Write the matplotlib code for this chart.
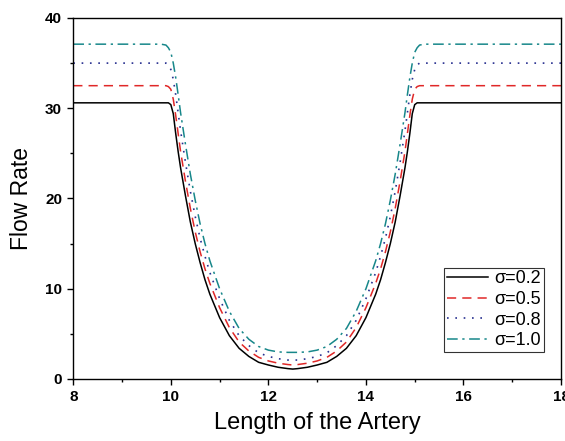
import matplotlib
matplotlib.use("Agg")
import matplotlib.pyplot as plt
from matplotlib.ticker import MultipleLocator

plt.rcParams['font.family'] = ['Liberation Sans', 'DejaVu Sans']

# Axial position along the artery (stenosis between 10 and 15)
z = [8.0, 9.8, 9.9, 9.95, 10.0, 10.05, 10.1, 10.15, 10.2, 10.3, 10.4, 10.5,
     10.6, 10.7, 10.8, 11.0, 11.2, 11.4, 11.6, 11.8, 12.0, 12.2, 12.4, 12.5,
     12.6, 12.8, 13.0, 13.2, 13.4, 13.6, 13.8, 14.0, 14.2, 14.3, 14.4, 14.5,
     14.6, 14.7, 14.8, 14.85, 14.9, 14.95, 15.0, 15.05, 15.1, 15.2, 18.0]

q_s02 = [30.6, 30.6, 30.6, 30.6, 30.4, 29.4, 27.2, 25.2, 23.4, 20.3, 17.4, 15.0,
         12.9, 11.0, 9.4, 6.8, 4.8, 3.4, 2.5, 1.85, 1.55, 1.3, 1.15, 1.1,
         1.15, 1.3, 1.55, 1.85, 2.5, 3.4, 4.8, 6.8, 9.4, 11.0, 12.9, 15.0,
         17.4, 20.3, 23.4, 25.2, 27.2, 29.4, 30.4, 30.6, 30.6, 30.6, 30.6]

q_s05 = [32.5, 32.5, 32.5, 32.4, 32.1, 31.0, 29.2, 27.2, 25.2, 21.9, 18.9, 16.3,
         14.1, 12.2, 10.6, 7.9, 5.7, 4.1, 3.1, 2.4, 2.0, 1.75, 1.6, 1.55,
         1.6, 1.75, 2.0, 2.4, 3.1, 4.1, 5.7, 7.9, 10.6, 12.2, 14.1, 16.3,
         18.9, 21.9, 25.2, 27.2, 29.2, 31.0, 32.1, 32.4, 32.5, 32.5, 32.5]

q_s08 = [35.0, 35.0, 35.0, 34.8, 34.3, 33.2, 31.5, 29.5, 27.5, 24.0, 20.8, 18.0,
         15.6, 13.6, 11.8, 8.9, 6.5, 4.8, 3.7, 2.9, 2.5, 2.25, 2.1, 2.1,
         2.1, 2.25, 2.5, 2.9, 3.7, 4.8, 6.5, 8.9, 11.8, 13.6, 15.6, 18.0,
         20.8, 24.0, 27.5, 29.5, 31.5, 33.2, 34.3, 34.8, 35.0, 35.0, 35.0]

q_s10 = [37.1, 37.1, 37.0, 36.7, 36.2, 35.0, 33.4, 31.5, 29.5, 26.0, 22.7, 19.8,
         17.2, 15.0, 13.1, 10.0, 7.5, 5.6, 4.4, 3.6, 3.2, 3.0, 2.95, 2.95,
         2.95, 3.0, 3.2, 3.6, 4.4, 5.6, 7.5, 10.0, 13.1, 15.0, 17.2, 19.8,
         22.7, 26.0, 29.5, 31.5, 33.4, 35.0, 36.2, 36.7, 37.0, 37.1, 37.1]

labels = ['σ=0.2', 'σ=0.5', 'σ=0.8', 'σ=1.0']

fig = plt.figure(figsize=(5.65, 4.41), dpi=100)
ax = fig.add_axes([0.1297, 0.1406, 0.8633, 0.8186])

ax.plot(z, q_s02, color='black', lw=1.1, ls='-', label=labels[0])
ax.plot(z, q_s05, color='#e02828', lw=1.1, ls=(0, (6, 4)), label=labels[1])
ax.plot(z, q_s08, color='#283090', lw=1.2, ls=(0, (1, 4)), label=labels[2])
ax.plot(z, q_s10, color='#17878a', lw=1.1, ls=(0, (7, 3, 1.5, 3)), label=labels[3])

ax.set_xlim(8, 18)
ax.set_ylim(0, 40)
ax.xaxis.set_major_locator(MultipleLocator(2))
ax.xaxis.set_minor_locator(MultipleLocator(1))
ax.yaxis.set_major_locator(MultipleLocator(10))
ax.yaxis.set_minor_locator(MultipleLocator(5))
ax.tick_params(which='major', direction='out', length=4.5, width=1.0,
               labelsize=11)
ax.tick_params(which='minor', direction='out', length=2.5, width=1.0)
for lab in ax.get_xticklabels() + ax.get_yticklabels():
    lab.set_fontweight('bold')
for sp in ax.spines.values():
    sp.set_linewidth(1.0)

ax.set_xlabel('Length of the Artery', fontsize=17, labelpad=6)
ax.set_ylabel('Flow Rate', fontsize=16.5, labelpad=9)

leg = ax.legend(loc='lower right', bbox_to_anchor=(0.965, 0.075), fontsize=13,
                frameon=True, fancybox=False, edgecolor='black',
                handlelength=2.3, handletextpad=0.35, borderpad=0.15,
                borderaxespad=0, labelspacing=0.2)
leg.get_frame().set_linewidth(0.8)

fig.savefig('out.png', dpi=100)
